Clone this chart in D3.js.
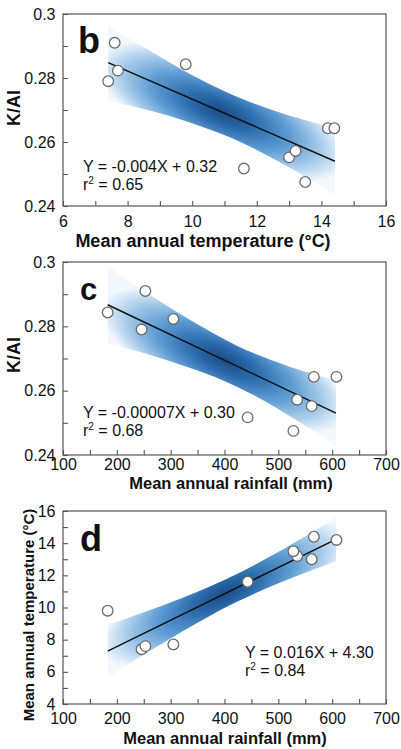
<!DOCTYPE html>
<html>
<head>
<meta charset="utf-8">
<script src="https://cdn.jsdelivr.net/npm/d3@7"></script>
<style>
  html, body { margin: 0; padding: 0; background: #fff; }
  svg { display: block; font-family: "Liberation Sans", Arial, sans-serif; }
</style>
</head>
<body>
<svg id="chart" width="401" height="749"></svg>
<script>
// ---- Data ----
const temperature = [7.4, 7.6, 7.7, 9.8, 11.6, 13.0, 13.2, 13.5, 14.2, 14.4];
const rainfall    = [246, 253, 305, 183, 443, 562, 535, 528, 608, 566];
const kai         = [0.279, 0.291, 0.2823, 0.2843, 0.2517, 0.2552, 0.2572, 0.2475, 0.2643, 0.2643];

// fitted lines (end points)
const lineB_x = [7.4, 14.42];  const lineB_y = [0.2848, 0.2540];
const lineC_x = [183, 607];    const lineC_y = [0.2867, 0.2530];
const lineD_x = [183, 607];    const lineD_y = [7.29, 14.24];

// confidence bands
const bandB_x  = [7.4, 8.5, 9.5, 10.5, 11.24, 12, 13, 14, 14.42];
const bandB_lo = [0.2730, 0.2703, 0.2675, 0.2641, 0.2612, 0.2575, 0.2521, 0.2461, 0.2435];
const bandB_hi = [0.2966, 0.2897, 0.2837, 0.2783, 0.2748, 0.2717, 0.2683, 0.2655, 0.2645];
const bandC_x  = [183, 250, 320, 380, 423, 470, 540, 607];
const bandC_lo = [0.2747, 0.2717, 0.2680, 0.2644, 0.2612, 0.2572, 0.2502, 0.2429];
const bandC_hi = [0.2987, 0.2911, 0.2836, 0.2778, 0.2740, 0.2706, 0.2664, 0.2631];
const bandD_x  = [183, 250, 320, 380, 423, 470, 540, 607];
const bandD_lo = [5.66, 7.07, 8.48, 9.61, 10.35, 11.08, 12.03, 12.87];
const bandD_hi = [8.92, 9.71, 10.58, 11.42, 12.09, 12.90, 14.23, 15.61];

// axis ticks
const tempMajor = [6, 8, 10, 12, 14, 16];
const tempMinor = [7, 9, 11, 13, 15];
const rainMajor = [100, 200, 300, 400, 500, 600, 700];
const rainMinor = [150, 250, 350, 450, 550, 650];
const kaiMajor  = [0.24, 0.26, 0.28, 0.30];
const kaiLabels = ["0.24", "0.26", "0.28", "0.3"];
const kaiMinor  = [0.25, 0.27, 0.29];
const tYMajor   = [4, 6, 8, 10, 12, 14, 16];
const tYMinor   = [5, 7, 9, 11, 13, 15];

const svg = d3.select("#chart");
const defs = svg.append("defs");

function zip(xs, ys) { return xs.map((x, i) => [x, ys[i]]); }

function panel(cfg) {
  const x = d3.scaleLinear().domain(cfg.xDomain).range([63, 386]);
  const y = d3.scaleLinear().domain(cfg.yDomain).range([cfg.bottom, cfg.top]);
  const g = svg.append("g");

  // gradient band
  const lx = cfg.line_x, ly = cfg.line_y;
  const px0 = x(lx[0]), py0 = y(ly[0]), px1 = x(lx[1]), py1 = y(ly[1]);
  const ang = Math.atan2(py1 - py0, px1 - px0) * 180 / Math.PI;
  const t = (cfg.centerX - lx[0]) / (lx[1] - lx[0]);
  const cyVal = ly[0] + t * (ly[1] - ly[0]);
  const grad = defs.append("radialGradient")
    .attr("id", cfg.id)
    .attr("gradientUnits", "userSpaceOnUse")
    .attr("cx", 0).attr("cy", 0).attr("r", 1)
    .attr("gradientTransform",
      `translate(${x(cfg.centerX)},${y(cyVal)}) rotate(${ang}) scale(135,48)`);
  [[0, "#1b4c86"], [0.25, "#2a69aa"], [0.55, "#5d9cd3"], [0.8, "#a9cdeb"], [1, "#f3f8fd"]]
    .forEach(([o, c]) => grad.append("stop").attr("offset", o).attr("stop-color", c));

  const area = d3.area()
    .x(d => x(d[0])).y0(d => y(d[1])).y1(d => y(d[2]))
    .curve(d3.curveMonotoneX);
  g.append("path")
    .datum(cfg.band_x.map((v, i) => [v, cfg.band_lo[i], cfg.band_hi[i]]))
    .attr("d", area)
    .attr("fill", `url(#${cfg.id})`);

  // fit line
  g.append("path")
    .datum(zip(lx, ly))
    .attr("d", d3.line().x(d => x(d[0])).y(d => y(d[1])))
    .attr("stroke", "#111").attr("stroke-width", 1.5).attr("fill", "none");

  // points
  g.selectAll("circle.pt").data(zip(cfg.px, cfg.py)).join("circle")
    .attr("cx", d => x(d[0])).attr("cy", d => y(d[1])).attr("r", 5.3)
    .attr("fill", "#fff").attr("stroke", "#6a6a6a").attr("stroke-width", 1.3);

  // axes (ticks inside)
  g.append("g").attr("transform", `translate(0,${cfg.bottom})`)
    .call(d3.axisBottom(x).tickValues(cfg.xMajor).tickSizeInner(-5).tickSizeOuter(0).tickPadding(cfg.xPad)
      .tickFormat(d3.format("d")));
  g.append("g").attr("transform", `translate(0,${cfg.bottom})`)
    .call(d3.axisBottom(x).tickValues(cfg.xMinor).tickSizeInner(-5).tickSizeOuter(0).tickFormat(""));
  g.append("g").attr("transform", `translate(63,0)`)
    .call(d3.axisLeft(y).tickValues(cfg.yMajor).tickSizeInner(-5).tickSizeOuter(0).tickPadding(7.5)
      .tickFormat((d, i) => cfg.yLabels[i]));
  g.append("g").attr("transform", `translate(63,0)`)
    .call(d3.axisLeft(y).tickValues(cfg.yMinor).tickSizeInner(-5).tickSizeOuter(0).tickFormat(""));
  g.selectAll(".domain").remove();
  g.selectAll(".tick line").attr("stroke", "#555").attr("stroke-width", 1.1);
  g.selectAll(".tick text").attr("font-size", 16).attr("fill", "#111")
    .attr("font-family", "'Liberation Sans', Arial, sans-serif");

  // frame
  g.append("rect").attr("x", 63).attr("y", cfg.top).attr("width", 323).attr("height", cfg.bottom - cfg.top)
    .attr("fill", "none").attr("stroke", "#555").attr("stroke-width", 1.2);

  // panel letter
  g.append("text").attr("x", cfg.letterX).attr("y", cfg.letterY)
    .attr("font-size", cfg.letterSize).attr("font-weight", "bold").attr("fill", "#111")
    .text(cfg.letter);

  // equation
  g.append("text").attr("x", cfg.eqX).attr("y", cfg.eqY).attr("font-size", 16).attr("fill", "#111")
    .text(cfg.eq);
  const r2 = g.append("text").attr("x", cfg.eqX).attr("y", cfg.eqY + 18).attr("font-size", 16).attr("fill", "#111");
  r2.append("tspan").text("r");
  r2.append("tspan").attr("font-size", 10).attr("dy", -6).text("2");
  r2.append("tspan").attr("dy", 6).text(" = " + cfg.r2);

  // axis titles
  g.append("text").attr("x", cfg.xTitleX).attr("y", cfg.xTitleY).attr("text-anchor", "middle")
    .attr("font-size", cfg.xTitleSize).attr("font-weight", "bold").attr("fill", "#111").text(cfg.xTitle);
  g.append("text").attr("transform", `translate(${cfg.yTitleX},${cfg.yTitleY}) rotate(-90)`)
    .attr("text-anchor", "middle").attr("font-size", cfg.yTitleSize).attr("font-weight", "bold")
    .attr("fill", "#111").text(cfg.yTitle);
}

panel({
  id: "gb", top: 14, bottom: 206, xDomain: [6, 16], yDomain: [0.24, 0.30],
  px: temperature, py: kai, line_x: lineB_x, line_y: lineB_y,
  band_x: bandB_x, band_lo: bandB_lo, band_hi: bandB_hi, centerX: 10.9,
  xMajor: tempMajor, xMinor: tempMinor, yMajor: kaiMajor, yLabels: kaiLabels, yMinor: kaiMinor, xPad: 9.5,
  letter: "b", letterX: 78, letterY: 53, letterSize: 36,
  eq: "Y = -0.004X + 0.32", r2: "0.65", eqX: 83, eqY: 172,
  xTitle: "Mean annual temperature (°C)", xTitleX: 203, xTitleY: 247, xTitleSize: 18,
  yTitle: "K/AI", yTitleX: 20, yTitleY: 108, yTitleSize: 18
});

panel({
  id: "gc", top: 262, bottom: 455, xDomain: [100, 700], yDomain: [0.24, 0.30],
  px: rainfall, py: kai, line_x: lineC_x, line_y: lineC_y,
  band_x: bandC_x, band_lo: bandC_lo, band_hi: bandC_hi, centerX: 400,
  xMajor: rainMajor, xMinor: rainMinor, yMajor: kaiMajor, yLabels: kaiLabels, yMinor: kaiMinor, xPad: 3.5,
  letter: "c", letterX: 80, letterY: 300, letterSize: 31,
  eq: "Y = -0.00007X + 0.30", r2: "0.68", eqX: 83, eqY: 418,
  xTitle: "Mean annual rainfall (mm)", xTitleX: 231, xTitleY: 489, xTitleSize: 16.5,
  yTitle: "K/AI", yTitleX: 20, yTitleY: 355, yTitleSize: 18
});

panel({
  id: "gd", top: 511, bottom: 704, xDomain: [100, 700], yDomain: [4, 16],
  px: rainfall, py: temperature, line_x: lineD_x, line_y: lineD_y,
  band_x: bandD_x, band_lo: bandD_lo, band_hi: bandD_hi, centerX: 400,
  xMajor: rainMajor, xMinor: rainMinor, yMajor: tYMajor, yLabels: tYMajor.map(String), yMinor: tYMinor, xPad: 8.5,
  letter: "d", letterX: 80, letterY: 551, letterSize: 36,
  eq: "Y = 0.016X + 4.30", r2: "0.84", eqX: 245, eqY: 658,
  xTitle: "Mean annual rainfall (mm)", xTitleX: 225, xTitleY: 744, xTitleSize: 16.5,
  yTitle: "Mean annual temperature (°C)", yTitleX: 34, yTitleY: 615, yTitleSize: 15
});
</script>
</body>
</html>
